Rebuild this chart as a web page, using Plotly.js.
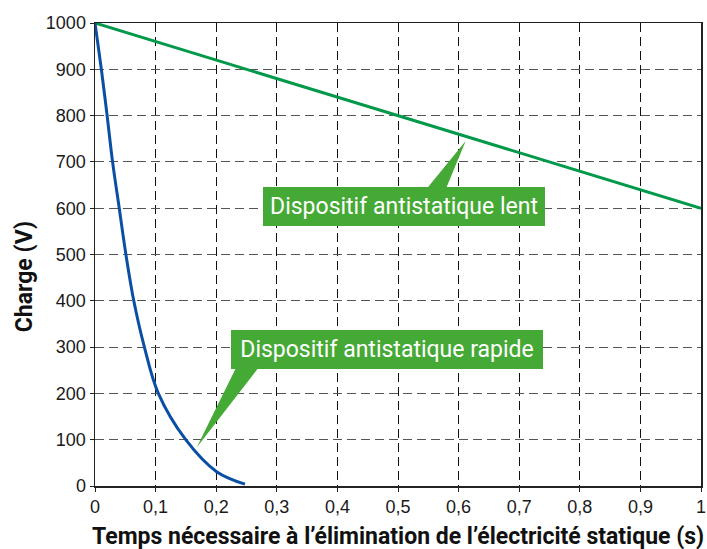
<!DOCTYPE html>
<html>
<head>
<meta charset="utf-8">
<script src="https://cdn.plot.ly/plotly-3.0.1.min.js"></script>
<style>html,body{margin:0;padding:0;background:#fff}#chart{width:707px;height:549px}</style>
</head>
<body>
<div id="chart"></div>
<script>
// Data
const rapideX = [0, 0.0105, 0.020, 0.029, 0.040, 0.051, 0.064, 0.0815, 0.1045, 0.1497, 0.2007, 0.2475];
const rapideY = [1000, 900, 800, 700, 600, 500, 400, 300, 200, 100, 31, 4];
const lentX = [0, 1];
const lentY = [1000, 600];

const xTickVals = [0, 0.1, 0.2, 0.3, 0.4, 0.5, 0.6, 0.7, 0.8, 0.9, 1];
const xTickText = ['0', '0,1', '0,2', '0,3', '0,4', '0,5', '0,6', '0,7', '0,8', '0,9', '1'];
const yTickVals = [0, 100, 200, 300, 400, 500, 600, 700, 800, 900, 1000];
const yTickText = ['0', '100', '200', '300', '400', '500', '600', '700', '800', '900', '1000'];

const labelLent = 'Dispositif antistatique lent';
const labelRapide = 'Dispositif antistatique rapide';
const xTitle = 'Temps nécessaire à l’élimination de l’électricité statique (s)';
const yTitle = 'Charge (V)';

// callout anchor points (label centre and pointer tip)
const lentBox = {x: 0.5107, y: 604};
const lentTip = {x: 0.6117, y: 745};
const lentBase = [0.5335, 0.5721];
const rapideBox = {x: 0.4816, y: 294.6};
const rapideTip = {x: 0.1678, y: 83};
const rapideBase = [0.2421, 0.2843];

const GREEN_BOX = '#45a935';
const FONT = 'Roboto, "Liberation Sans", Arial, sans-serif';

const traces = [
  {x: lentX, y: lentY, type: 'scatter', mode: 'lines', line: {color: '#00994a', width: 3}, hoverinfo: 'none'},
  {x: rapideX, y: rapideY, type: 'scatter', mode: 'lines', line: {color: '#0a4fa3', width: 3, shape: 'spline', smoothing: 1}, hoverinfo: 'none'}
];

function tri(base, tip, yb) {
  return 'M ' + base[0] + ' ' + yb + ' L ' + base[1] + ' ' + yb + ' L ' + tip.x + ' ' + tip.y + ' Z';
}

const layout = {
  width: 707, height: 549,
  margin: {l: 95, r: 6, t: 23, b: 63},
  paper_bgcolor: '#fff', plot_bgcolor: '#fff',
  showlegend: false,
  font: {family: '"Liberation Sans", Arial, sans-serif', size: 18, color: '#1a1a1a'},
  xaxis: {
    range: [0, 1], tickvals: xTickVals, ticktext: xTickText,
    ticks: 'outside', ticklen: 4, tickcolor: '#222',
    showline: true, mirror: true, linecolor: '#222', linewidth: 1.5,
    showgrid: true, gridcolor: '#111', gridwidth: 1, griddash: '9px,5px',
    zeroline: false, tickfont: {size: 18, color: '#1a1a1a'}
  },
  yaxis: {
    range: [0, 1000], tickvals: yTickVals, ticktext: yTickText,
    ticks: 'outside', ticklen: 4, tickcolor: '#222',
    showline: true, mirror: true, linecolor: '#222', linewidth: 1.5,
    showgrid: true, gridcolor: '#555', gridwidth: 1, griddash: '9px,5px',
    zeroline: false, tickfont: {size: 18, color: '#1a1a1a'}
  },
  shapes: [
    {type: 'path', xref: 'x', yref: 'y', path: tri(lentBase, lentTip, 620), fillcolor: GREEN_BOX, line: {width: 0}, layer: 'above'},
    {type: 'path', xref: 'x', yref: 'y', path: tri(rapideBase, rapideTip, 280), fillcolor: GREEN_BOX, line: {width: 0}, layer: 'above'}
  ],
  annotations: [
    {x: lentBox.x, y: lentBox.y, xref: 'x', yref: 'y', text: labelLent, showarrow: false,
     bgcolor: GREEN_BOX, borderpad: 0, borderwidth: 0, width: 282, height: 39,
     font: {family: FONT, size: 23, color: '#fff'}, xanchor: 'center', yanchor: 'middle'},
    {x: rapideBox.x, y: rapideBox.y, xref: 'x', yref: 'y', text: labelRapide, showarrow: false,
     bgcolor: GREEN_BOX, borderpad: 0, borderwidth: 0, width: 312, height: 39,
     font: {family: FONT, size: 23, color: '#fff'}, xanchor: 'center', yanchor: 'middle'},
    {x: 0.5, y: -0.108, xref: 'paper', yref: 'paper', text: '<b>' + xTitle + '</b>', showarrow: false,
     font: {family: FONT, size: 23, color: '#111'}, xanchor: 'center', yanchor: 'middle'},
    {x: -0.117, y: 0.451, xref: 'paper', yref: 'paper', text: '<b>' + yTitle + '</b>', showarrow: false, textangle: -90,
     font: {family: FONT, size: 23, color: '#111'}, xanchor: 'center', yanchor: 'middle'}
  ]
};

Plotly.newPlot('chart', traces, layout, {displayModeBar: false, staticPlot: true});
</script>
</body>
</html>
